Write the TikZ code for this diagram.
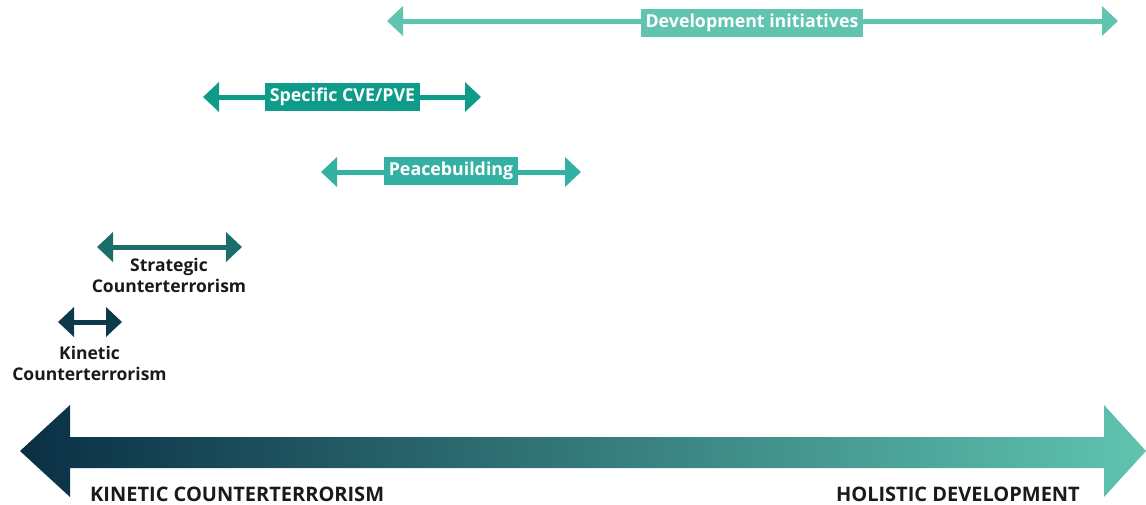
\documentclass[tikz,border=0pt]{standalone}
\usepackage{fontspec}
\setmainfont{Open Sans}[Ligatures=NoCommon]
\usetikzlibrary{arrows.meta}

\definecolor{devcol}{HTML}{60C4B1}
\definecolor{cvecol}{HTML}{0E9B89}
\definecolor{peacecol}{HTML}{35B1A4}
\definecolor{stratcol}{HTML}{1B6D69}
\definecolor{kincol}{HTML}{0D394D}
\definecolor{inkcol}{HTML}{1A1A1A}
\definecolor{leftcol}{HTML}{0A2F45}
\definecolor{rightcol}{HTML}{5FC4B0}

\begin{document}
\begin{tikzpicture}[x=1pt, y=-1pt,
    span/.style={line width=5pt, draw=#1,
      {Triangle[length=16pt,width=29pt]}-{Triangle[length=16pt,width=29pt]}},
    tag/.style={fill=#1, text=white, font=\bfseries\fontsize{17.8}{20}\selectfont,
      inner xsep=5pt, inner ysep=0pt, minimum height=28pt},
    caption/.style={font=\bfseries\fontsize{17.5}{21}\selectfont, align=center,
      text=inkcol, inner sep=0pt},
    endlabel/.style={font=\bfseries\fontsize{20}{24}\selectfont, text=inkcol,
      inner sep=0pt, text depth=0pt}]
    \useasboundingbox (0,0) rectangle (1146,504);

    % Span end points.
    \coordinate (devL) at (387,21);
    \coordinate (devR) at (1118,21);
    \coordinate (cveL) at (203,97);
    \coordinate (cveR) at (481,97);
    \coordinate (peaceL) at (321,172);
    \coordinate (peaceR) at (581,172);
    \coordinate (stratL) at (97,247);
    \coordinate (stratR) at (242,247);
    \coordinate (kinL) at (58,322);
    \coordinate (kinR) at (122,322);

    % Spans.
    \draw [span=devcol] (devL) -- (devR);
    \draw [span=cvecol] (cveL) -- (cveR);
    \draw [span=peacecol] (peaceL) -- (peaceR);
    \draw [span=stratcol] (stratL) -- (stratR);
    \draw [span=kincol] (kinL) -- (kinR);

    % Labels on the spans.
    \node [tag=devcol] (dev) at (752,23) {Development initiatives};
    \node [tag=cvecol] (cve) at (342.5,97) {Specific CVE/PVE};
    \node [tag=peacecol] (peace) at (451,171) {Peacebuilding};

    % Labels under the spans.
    \node [caption, anchor=north] (strat) at (169,258) {Strategic\\Counterterrorism};
    \node [caption, anchor=north] (kin) at (89.5,346) {Kinetic\\Counterterrorism};

    % Scale.
    \shade [left color=leftcol, right color=rightcol]
      (20,451) -- (70,405) -- (70,437) -- (1104,437) -- (1104,405)
      -- (1146,451) -- (1104,497) -- (1104,468) -- (70,468) -- (70,497) -- cycle;
    \node [endlabel, anchor=base west] (ktlabel) at (90,501) {KINETIC COUNTERTERRORISM};
    \node [endlabel, anchor=base east] (hdlabel) at (1080,501) {HOLISTIC DEVELOPMENT};

\end{tikzpicture}
\end{document}
